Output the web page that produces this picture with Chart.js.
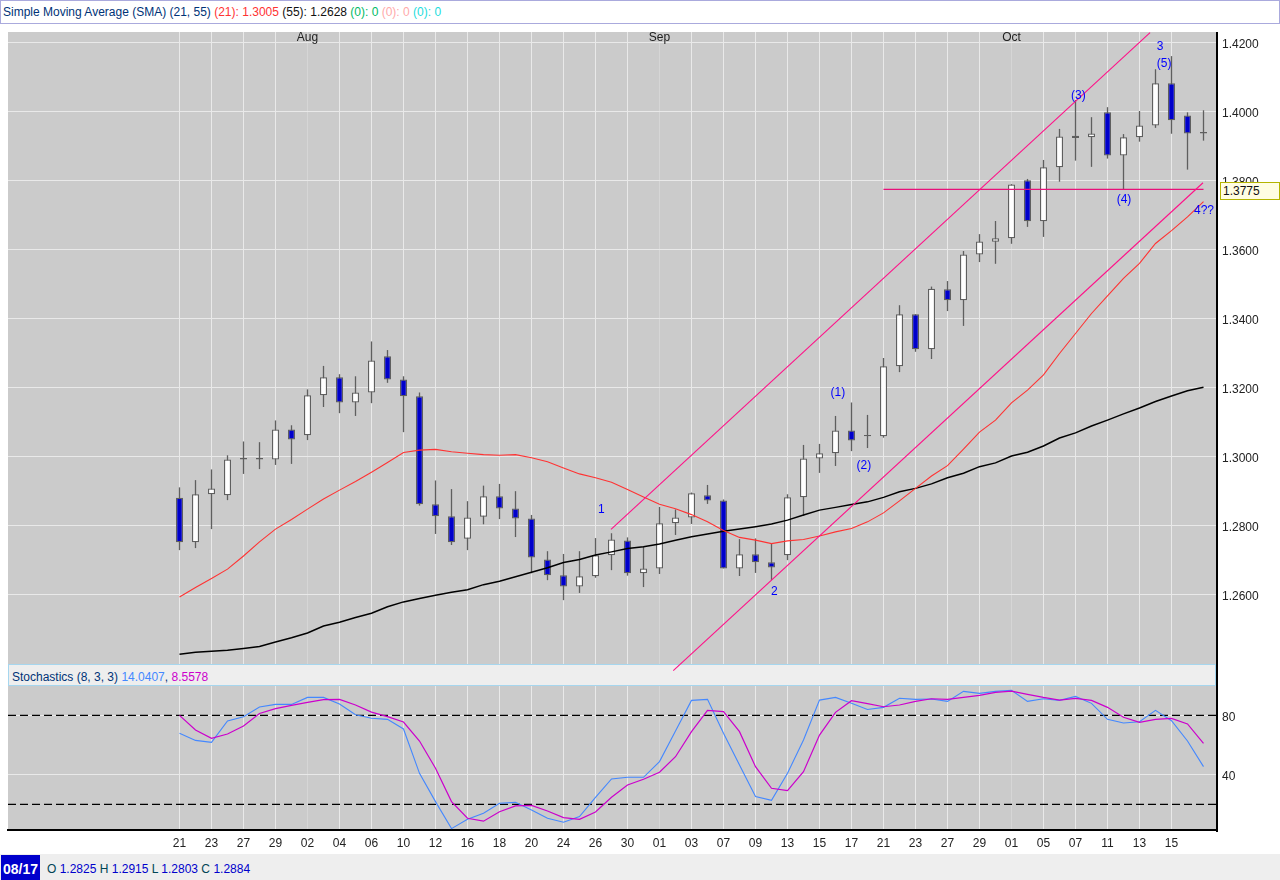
<!DOCTYPE html>
<html><head><meta charset="utf-8">
<script src="https://cdn.jsdelivr.net/npm/chart.js@4/dist/chart.umd.min.js"></script>
<style>
html,body{margin:0;padding:0;background:#fff;width:1280px;height:880px;overflow:hidden;font:12px "Liberation Sans",Arial,sans-serif}
.abs{position:absolute;white-space:nowrap}
canvas{position:absolute;left:0}
#hdr{left:0;top:0;width:1278px;height:22px;border:1px solid #aaaadd;line-height:22px;padding:0;color:#003377;text-indent:2px}
#panel{left:8px;top:664px;width:1206px;height:20px;background:#eeeeee;border:1px solid #a6d6ee;line-height:24px;text-indent:3px;color:#003377}
#frame{left:1216px;top:32px;width:2px;height:800px;background:#000}
#foot{left:0;top:854px;width:1280px;height:26px;background:#eeeeee}
#date{left:1px;top:855px;width:39px;height:25px;background:#0000cc;color:#fff;font-weight:bold;font-size:14px;line-height:28px;text-align:center}
#ohlc{left:47px;top:855px;height:25px;line-height:28px;color:#004455}
#ohlc b{font-weight:normal;color:#0000cc}
#tag{left:1220px;top:182px;width:58px;height:16px;background:#fffde2;border:1px solid #b4b400;line-height:17px;text-indent:2px;color:#111}
</style></head><body>
<div class="abs" id="hdr">Simple Moving Average (SMA) (21, 55) <span style="color:#ff3333">(21): 1.3005</span> <span style="color:#111">(55): 1.2628</span> <span style="color:#00bb66">(0): 0</span> <span style="color:#ffaaaa">(0): 0</span> <span style="color:#22dddd">(0): 0</span></div>
<div class="abs" id="foot"></div>
<div class="abs" id="date">08/17</div>
<div class="abs" id="ohlc">O <b>1.2825</b> H <b>1.2915</b> L <b>1.2803</b> C <b>1.2884</b></div>
<div class="abs" id="panel">Stochastics (8, 3, 3) <span style="color:#4488ff">14.0407</span>, <span style="color:#cc00cc">8.5578</span></div>
<canvas id="stoch" width="1280" height="167" style="top:686px;width:1280px;height:167px"></canvas>
<canvas id="price" width="1280" height="672" style="top:0;width:1280px;height:672px"></canvas>
<div class="abs" id="frame"></div>
<div class="abs" id="tag">1.3775</div>
<script>
const dateLabels=["21","23","27","29","02","04","06","10","12","16","18","20","24","26","30","01","03","07","09","13","15","17","21","23","27","29","01","05","07","11","13","15"];
const dateIndex=[0,2,4,6,8,10,12,14,16,18,20,22,24,26,28,30,32,34,36,38,40,42,44,46,48,50,52,54,56,58,60,62];
const monthNames=["Aug","Sep","Oct"];
const monthIndex=[8,30,52];
const priceTicks=[1.26,1.28,1.30,1.32,1.34,1.36,1.38,1.40,1.42];
const stochTicks=[40,80];
const stochLevels=[80,20];

const opens=[1.2880,1.2751,1.2890,1.2887,1.2991,1.2991,1.2991,1.3078,1.3061,1.3177,1.3229,1.3156,1.3185,1.3290,1.3223,1.3174,1.2861,1.2826,1.2761,1.2825,1.2884,1.2849,1.2820,1.2701,1.2655,1.2623,1.2652,1.2713,1.2756,1.2661,1.2675,1.2806,1.2823,1.2887,1.2872,1.2675,1.2716,1.2693,1.2713,1.2881,1.2994,1.3009,1.3075,1.3058,1.3058,1.3261,1.3412,1.3310,1.3484,1.3452,1.3585,1.3622,1.3632,1.3800,1.3681,1.3838,1.3923,1.3925,1.3997,1.3872,1.3925,1.3959,1.4081,1.3988,1.3936];
const highs=[1.2910,1.2931,1.2962,1.3003,1.3043,1.3041,1.3104,1.3090,1.3194,1.3262,1.3238,1.3232,1.3333,1.3308,1.3232,1.3185,1.2930,1.2905,1.2870,1.2915,1.2920,1.2899,1.2830,1.2725,1.2717,1.2725,1.2763,1.2777,1.2765,1.2738,1.2853,1.2846,1.2895,1.2917,1.2875,1.2760,1.2762,1.2748,1.2890,1.3033,1.3036,1.3117,1.3156,1.3120,1.3285,1.3438,1.3412,1.3492,1.3508,1.3595,1.3644,1.3682,1.3789,1.3804,1.3859,1.3949,1.4033,1.3983,1.4012,1.3934,1.4001,1.4122,1.4160,1.3997,1.4003];
const lows=[1.2728,1.2734,1.2789,1.2873,1.2949,1.2963,1.2975,1.2978,1.3047,1.3143,1.3125,1.3117,1.3154,1.3213,1.3070,1.2857,1.2775,1.2743,1.2728,1.2803,1.2818,1.2766,1.2661,1.2641,1.2583,1.2604,1.2648,1.2670,1.2654,1.2621,1.2659,1.2772,1.2804,1.2862,1.2675,1.2653,1.2662,1.2641,1.2699,1.2827,1.2952,1.2972,1.3015,1.3024,1.3054,1.3244,1.3303,1.3282,1.3421,1.3378,1.3563,1.3558,1.3616,1.3665,1.3636,1.3796,1.3857,1.3839,1.3863,1.3774,1.3912,1.3952,1.3935,1.3831,1.3915];
const closes=[1.2751,1.2890,1.2907,1.2991,1.2995,1.2995,1.3078,1.3049,1.3177,1.3229,1.3156,1.3185,1.3278,1.3223,1.3174,1.2861,1.2826,1.2751,1.2823,1.2884,1.2849,1.2820,1.2707,1.2655,1.2623,1.2652,1.2713,1.2759,1.2661,1.2675,1.2806,1.2823,1.2893,1.2872,1.2675,1.2716,1.2693,1.2678,1.2881,1.2994,1.3009,1.3075,1.3046,1.3062,1.3261,1.3412,1.3310,1.3486,1.3452,1.3585,1.3623,1.3632,1.3788,1.3681,1.3838,1.3927,1.3929,1.3936,1.3872,1.3925,1.3959,1.4081,1.3974,1.3936,1.3940];

const sma21=[1.2592,1.2620,1.2646,1.2673,1.2711,1.2752,1.2789,1.2817,1.2847,1.2876,1.2902,1.2927,1.2954,1.2982,1.3011,1.3018,1.3020,1.3013,1.3009,1.3005,1.3003,1.3005,1.2996,1.2984,1.2966,1.2949,1.2938,1.2925,1.2904,1.2882,1.2861,1.2848,1.2831,1.2810,1.2785,1.2765,1.2757,1.2747,1.2755,1.2759,1.2769,1.2781,1.2791,1.2810,1.2836,1.2871,1.2907,1.2943,1.2973,1.3021,1.3070,1.3105,1.3155,1.3192,1.3236,1.3298,1.3356,1.3414,1.3465,1.3516,1.3559,1.3617,1.3654,1.3694,1.3738];
const sma55=[1.2426,1.2432,1.2435,1.2438,1.2443,1.2449,1.2462,1.2474,1.2488,1.2508,1.2519,1.2533,1.2545,1.2564,1.2578,1.2588,1.2597,1.2606,1.2613,1.2628,1.2638,1.2651,1.2664,1.2677,1.2692,1.2701,1.2714,1.2723,1.2733,1.2738,1.2746,1.2757,1.2767,1.2775,1.2783,1.2789,1.2796,1.2804,1.2815,1.2830,1.2844,1.2852,1.2860,1.2868,1.2881,1.2897,1.2907,1.2920,1.2938,1.2951,1.2970,1.2981,1.3001,1.3012,1.3030,1.3053,1.3068,1.3088,1.3105,1.3123,1.3140,1.3159,1.3175,1.3190,1.3200];

const stochK=[67.9,63.1,61.8,76.2,79.1,85.6,87.4,87.4,92.1,92.1,87.6,80.4,78,77.3,70.8,40.9,21.8,3.6,9.9,14.0,20.7,21.3,16.2,10.6,7.9,11.7,24.7,37.1,38.2,38.2,48.8,69.4,90.1,90.8,67.9,46.5,25.2,22.7,40.9,63.4,90.3,92.1,88.1,84,85.4,91.5,90.8,91,89.4,96.2,94.8,96.2,96.9,89.4,91.2,90.1,92.8,88.1,77.3,74.8,75.7,83.4,76.4,62.7,45.4];
const stochD=[80,70.1,64.5,67.4,72.8,81.3,84.5,86.7,88.8,90.6,90.8,87,82.2,79.1,75.5,62.7,44.3,21.8,10.6,8.6,15,18.9,19.3,15.5,11,9.9,14.8,24.7,33,36.9,41.6,52.1,69,83.4,82.5,69,45.4,30.8,29.2,42,66.7,82,89.9,87.9,85.8,87,89.4,91.2,90.8,92.1,93.5,95.5,96.4,94.2,92.1,90.3,91.5,90.1,85.4,78.7,75.3,77.3,78,74.2,61.1];

const upperTrendX=[26.97,60.66], upperTrendY=[1.2788,1.4228];
const lowerTrendX=[30.86,63.97], lowerTrendY=[1.2379,1.3793];
const levelX=[44,64], levelY=[1.3774,1.3774];

const noteTexts=["1","2","(1)","(2)","(3)","3","(5)","(4)","4??"];
const noteIndex=[26.37,37.17,41.15,42.77,56.18,61.29,61.54,59.03,64.03];
const notePrice=[1.2844,1.2607,1.3185,1.2973,1.4044,1.4187,1.4137,1.3743,1.3712];

const xMin=-10.71875,xMax=64.78125;
const FONT='"Liberation Sans", Arial, sans-serif';
const GRID='#e9e9e9',GRIDM='#d6d6d6',BG='#cbcbcb';
Chart.defaults.font.family=FONT;Chart.defaults.font.size=12;

const bgPlugin={id:'bg',beforeDraw(c){const a=c.chartArea,x=c.ctx;x.save();x.fillStyle=BG;x.fillRect(a.left,a.top,a.right-a.left,a.bottom-a.top);x.restore();}};
const notesPlugin={id:'notes',afterDatasetsDraw(c){const x=c.ctx,sx=c.scales.x,sy=c.scales.y,a=c.chartArea;x.save();
 x.font='12px '+FONT;x.textAlign='center';x.textBaseline='middle';x.fillStyle='#0000ff';
 noteTexts.forEach((t,i)=>x.fillText(t,sx.getPixelForValue(noteIndex[i]),sy.getPixelForValue(notePrice[i])));
 x.fillStyle='#222';monthNames.forEach((m,i)=>x.fillText(m,sx.getPixelForValue(monthIndex[i]),a.top+6));
 x.restore();}};
function noPad(s){s.paddingTop=0;s.paddingBottom=0;s.paddingLeft=0;s.paddingRight=0;}

function xAxis(showLabels){return {type:'linear',min:xMin,max:xMax,offset:false,
 afterBuildTicks:s=>{s.ticks=dateIndex.map(v=>({value:v}));},
 afterFit:s=>{s.height=showLabels?23:0;noPad(s);},
 grid:{offset:false,drawTicks:false,lineWidth:1,color:c=>monthIndex.includes(c.tick&&c.tick.value)?GRIDM:GRID},
 border:{display:showLabels,color:'#000',width:2},
 ticks:{display:showLabels,autoSkip:false,maxRotation:0,padding:6,color:'#222',font:{size:12},callback:v=>dateLabels[dateIndex.indexOf(v)]}};}
function yAxis(min,max,tickVals,fmt,off){return {type:'linear',position:'right',min,max,
 afterBuildTicks:s=>{s.ticks=tickVals.map(v=>({value:v}));},
 afterFit:s=>{s.width=64;noPad(s);},
 grid:{drawTicks:false,color:GRID,lineWidth:1},border:{display:false},
 ticks:{autoSkip:false,padding:6,labelOffset:off,color:'#222',font:{size:12},callback:fmt}};}
function xy(xs,ys){return ys.map((y,i)=>({x:xs?xs[i]:i,y}));}
function line(label,data,color,width,order,extra){return Object.assign({type:'line',label,data,borderColor:color,borderWidth:width,pointRadius:0,tension:0,fill:false,order},extra||{});}
const base={responsive:false,animation:false,devicePixelRatio:1,maintainAspectRatio:false,events:[],plugins:{legend:{display:false},tooltip:{enabled:false}}};

new Chart(document.getElementById('price'),{type:'bar',plugins:[bgPlugin,notesPlugin],
 data:{datasets:[
  {label:'wick',data:highs.map((h,i)=>({x:i,y:[lows[i],h]})),backgroundColor:'#5f5f5f',borderWidth:0,barThickness:1.3,grouped:false,inflateAmount:0,order:6},
  {label:'body',data:opens.map((o,i)=>({x:i,y:[o,closes[i]]})),backgroundColor:opens.map((o,i)=>Math.abs(closes[i]-o)<0.0007?'#5f5f5f':(closes[i]>=o?'#ffffff':'#0000cc')),borderColor:'#5f5f5f',borderWidth:1.25,borderSkipped:false,barThickness:7,grouped:false,inflateAmount:0,order:5},
  line('level',xy(levelX,levelY),'#e8107a',1.3,4),
  line('SMA 55',xy(null,sma55),'#000000',1.5,3),
  line('SMA 21',xy(null,sma21),'#ff3333',1.1,2),
  line('upper trend',xy(upperTrendX,upperTrendY),'#ff1188',1.1,1),
  line('lower trend',xy(lowerTrendX,lowerTrendY),'#ff1188',1.1,1,{clip:false})
 ]},
 options:Object.assign({},base,{layout:{padding:{left:8,top:32,bottom:8,right:0}},
  scales:{x:xAxis(false),y:yAxis(1.2398,1.42299,priceTicks,v=>v.toFixed(4),2)}})});

new Chart(document.getElementById('stoch'),{type:'line',plugins:[bgPlugin],
 data:{datasets:[
  line('level 80',[{x:xMin,y:stochLevels[0]},{x:xMax,y:stochLevels[0]}],'#000',1.3,4,{borderDash:[8,4]}),
  line('level 20',[{x:xMin,y:stochLevels[1]},{x:xMax,y:stochLevels[1]}],'#000',1.3,4,{borderDash:[8,4]}),
  line('%K',xy(null,stochK),'#4488ff',1.1,2),
  line('%D',xy(null,stochD),'#cc00cc',1.2,1)
 ]},
 options:Object.assign({},base,{layout:{padding:{left:8,top:0,bottom:0,right:0}},
  scales:{x:xAxis(true),y:yAxis(2.66,99.8,stochTicks,v=>String(v),2)}})});
</script>
</body></html>
